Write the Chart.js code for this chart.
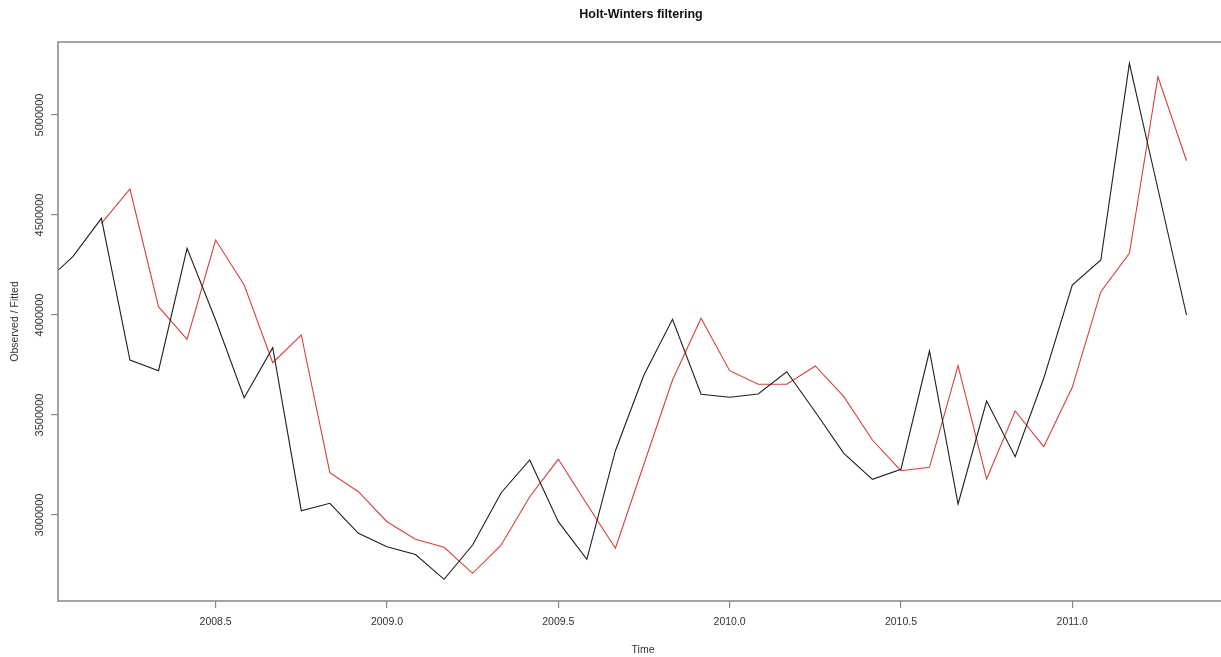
<!DOCTYPE html>
<html>
<head>
<meta charset="utf-8">
<title>Holt-Winters filtering</title>
<script src="https://cdn.jsdelivr.net/npm/chart.js@4/dist/chart.umd.min.js"></script>
<style>
  html, body { margin: 0; padding: 0; background: #fff; }
  canvas { display: block; }
</style>
</head>
<body>
<canvas id="hw" width="1221" height="657"></canvas>
<script>
// monthly series, first observation Jan 2008
const startYear = 2008;
const frequency = 12;

const observed = [
  4160000, 4291500, 4483500, 3775000, 3721500, 4333500, 3975000, 3586500,
  3836500, 3021500, 3058500, 2908500, 2841500, 2802500, 2678500, 2850000,
  3111500, 3275000, 2966500, 2778500, 3321500, 3700000, 3978500, 3603500,
  3588500, 3605000, 3716500, 3515000, 3308500, 3178500, 3228500, 3820000,
  3055000, 3570000, 3291500, 3683500, 4150000, 4275000, 5258500, 4630000,
  4000000
];

// fitted values start at the third month (level + trend model)
const fittedStart = 2;
const fitted = [
  4458500, 4630000, 4041500, 3878500, 4375000, 4150000, 3761500, 3900000,
  3211500, 3116500, 2966500, 2878500, 2838500, 2708500, 2850000, 3091500,
  3278500, 3055000, 2833500, 3255000, 3675000, 3983500, 3721500, 3653500,
  3653500, 3745000, 3591500, 3375000, 3221500, 3238500, 3746500, 3180000,
  3520000, 3341500, 3638500, 4116500, 4308500, 5191500, 4771500
];

const xTicks = [2008.5, 2009.0, 2009.5, 2010.0, 2010.5, 2011.0];
const yTicks = [3000000, 3500000, 4000000, 4500000, 5000000];

// visible axis window
const xMin = 2008.04, xMax = 2011.434;
const yMin = 2570000, yMax = 5365000;

const fontFamily = '"Liberation Sans", Arial, sans-serif';
const axisGray = '#888';
const textColor = '#333';

function toPoints(values, offset) {
  return values.map((v, i) => ({ x: startYear + (i + offset) / frequency, y: v }));
}

// R-style frame, rotated y labels and titles
const rDecor = {
  id: 'rDecor',
  afterDraw(chart) {
    const ctx = chart.ctx;
    const a = chart.chartArea;
    const yScale = chart.scales.y;

    ctx.save();
    ctx.strokeStyle = axisGray;
    ctx.lineWidth = 1.5;
    ctx.beginPath();
    ctx.moveTo(chart.width + 2, a.top);
    ctx.lineTo(a.left, a.top);
    ctx.lineTo(a.left, a.bottom);
    ctx.lineTo(chart.width + 2, a.bottom);
    ctx.stroke();

    ctx.fillStyle = textColor;
    ctx.font = '11px ' + fontFamily;
    ctx.textAlign = 'center';
    ctx.textBaseline = 'middle';
    yTicks.forEach(v => {
      const py = yScale.getPixelForValue(v);
      ctx.save();
      ctx.translate(40, py);
      ctx.rotate(-Math.PI / 2);
      ctx.fillText(String(v), 0, 0);
      ctx.restore();
    });

    ctx.font = '10.5px ' + fontFamily;
    ctx.save();
    ctx.translate(15, (a.top + a.bottom) / 2);
    ctx.rotate(-Math.PI / 2);
    ctx.fillText('Observed / Fitted', 0, 0);
    ctx.restore();

    ctx.fillText('Time', 643, 650);

    ctx.fillStyle = '#111';
    ctx.font = 'bold 12.5px ' + fontFamily;
    ctx.fillText('Holt-Winters filtering', 641, 15);
    ctx.restore();
  }
};

new Chart(document.getElementById('hw'), {
  type: 'line',
  data: {
    datasets: [
      {
        label: 'Observed',
        data: toPoints(observed, 0),
        borderColor: '#1e1e1e',
        borderWidth: 1.1,
        pointRadius: 0,
        tension: 0,
        fill: false
      },
      {
        label: 'Fitted',
        data: toPoints(fitted, fittedStart),
        borderColor: '#d4403c',
        borderWidth: 1.1,
        pointRadius: 0,
        tension: 0,
        fill: false
      }
    ]
  },
  options: {
    responsive: false,
    animation: false,
    devicePixelRatio: 1,
    layout: { padding: { top: 42, left: 0, right: 0, bottom: 0 } },
    plugins: {
      legend: { display: false },
      title: { display: false },
      tooltip: { enabled: false }
    },
    scales: {
      x: {
        type: 'linear',
        min: xMin,
        max: xMax,
        afterBuildTicks: s => { s.ticks = xTicks.map(v => ({ value: v })); },
        afterFit: s => { s.height = 56; },
        border: { display: false },
        grid: { drawOnChartArea: false, drawTicks: true, tickLength: 7, color: axisGray, lineWidth: 1.2 },
        ticks: {
          autoSkip: false,
          maxRotation: 0,
          padding: 8,
          color: textColor,
          font: { family: fontFamily, size: 10.5 },
          callback: v => Number(v).toFixed(1)
        }
      },
      y: {
        type: 'linear',
        min: yMin,
        max: yMax,
        afterBuildTicks: s => { s.ticks = yTicks.map(v => ({ value: v })); },
        afterFit: s => { s.width = 58; },
        border: { display: false },
        grid: { drawOnChartArea: false, drawTicks: true, tickLength: 7, color: axisGray, lineWidth: 1.2 },
        ticks: { display: false }
      }
    }
  },
  plugins: [rDecor]
});
</script>
</body>
</html>
